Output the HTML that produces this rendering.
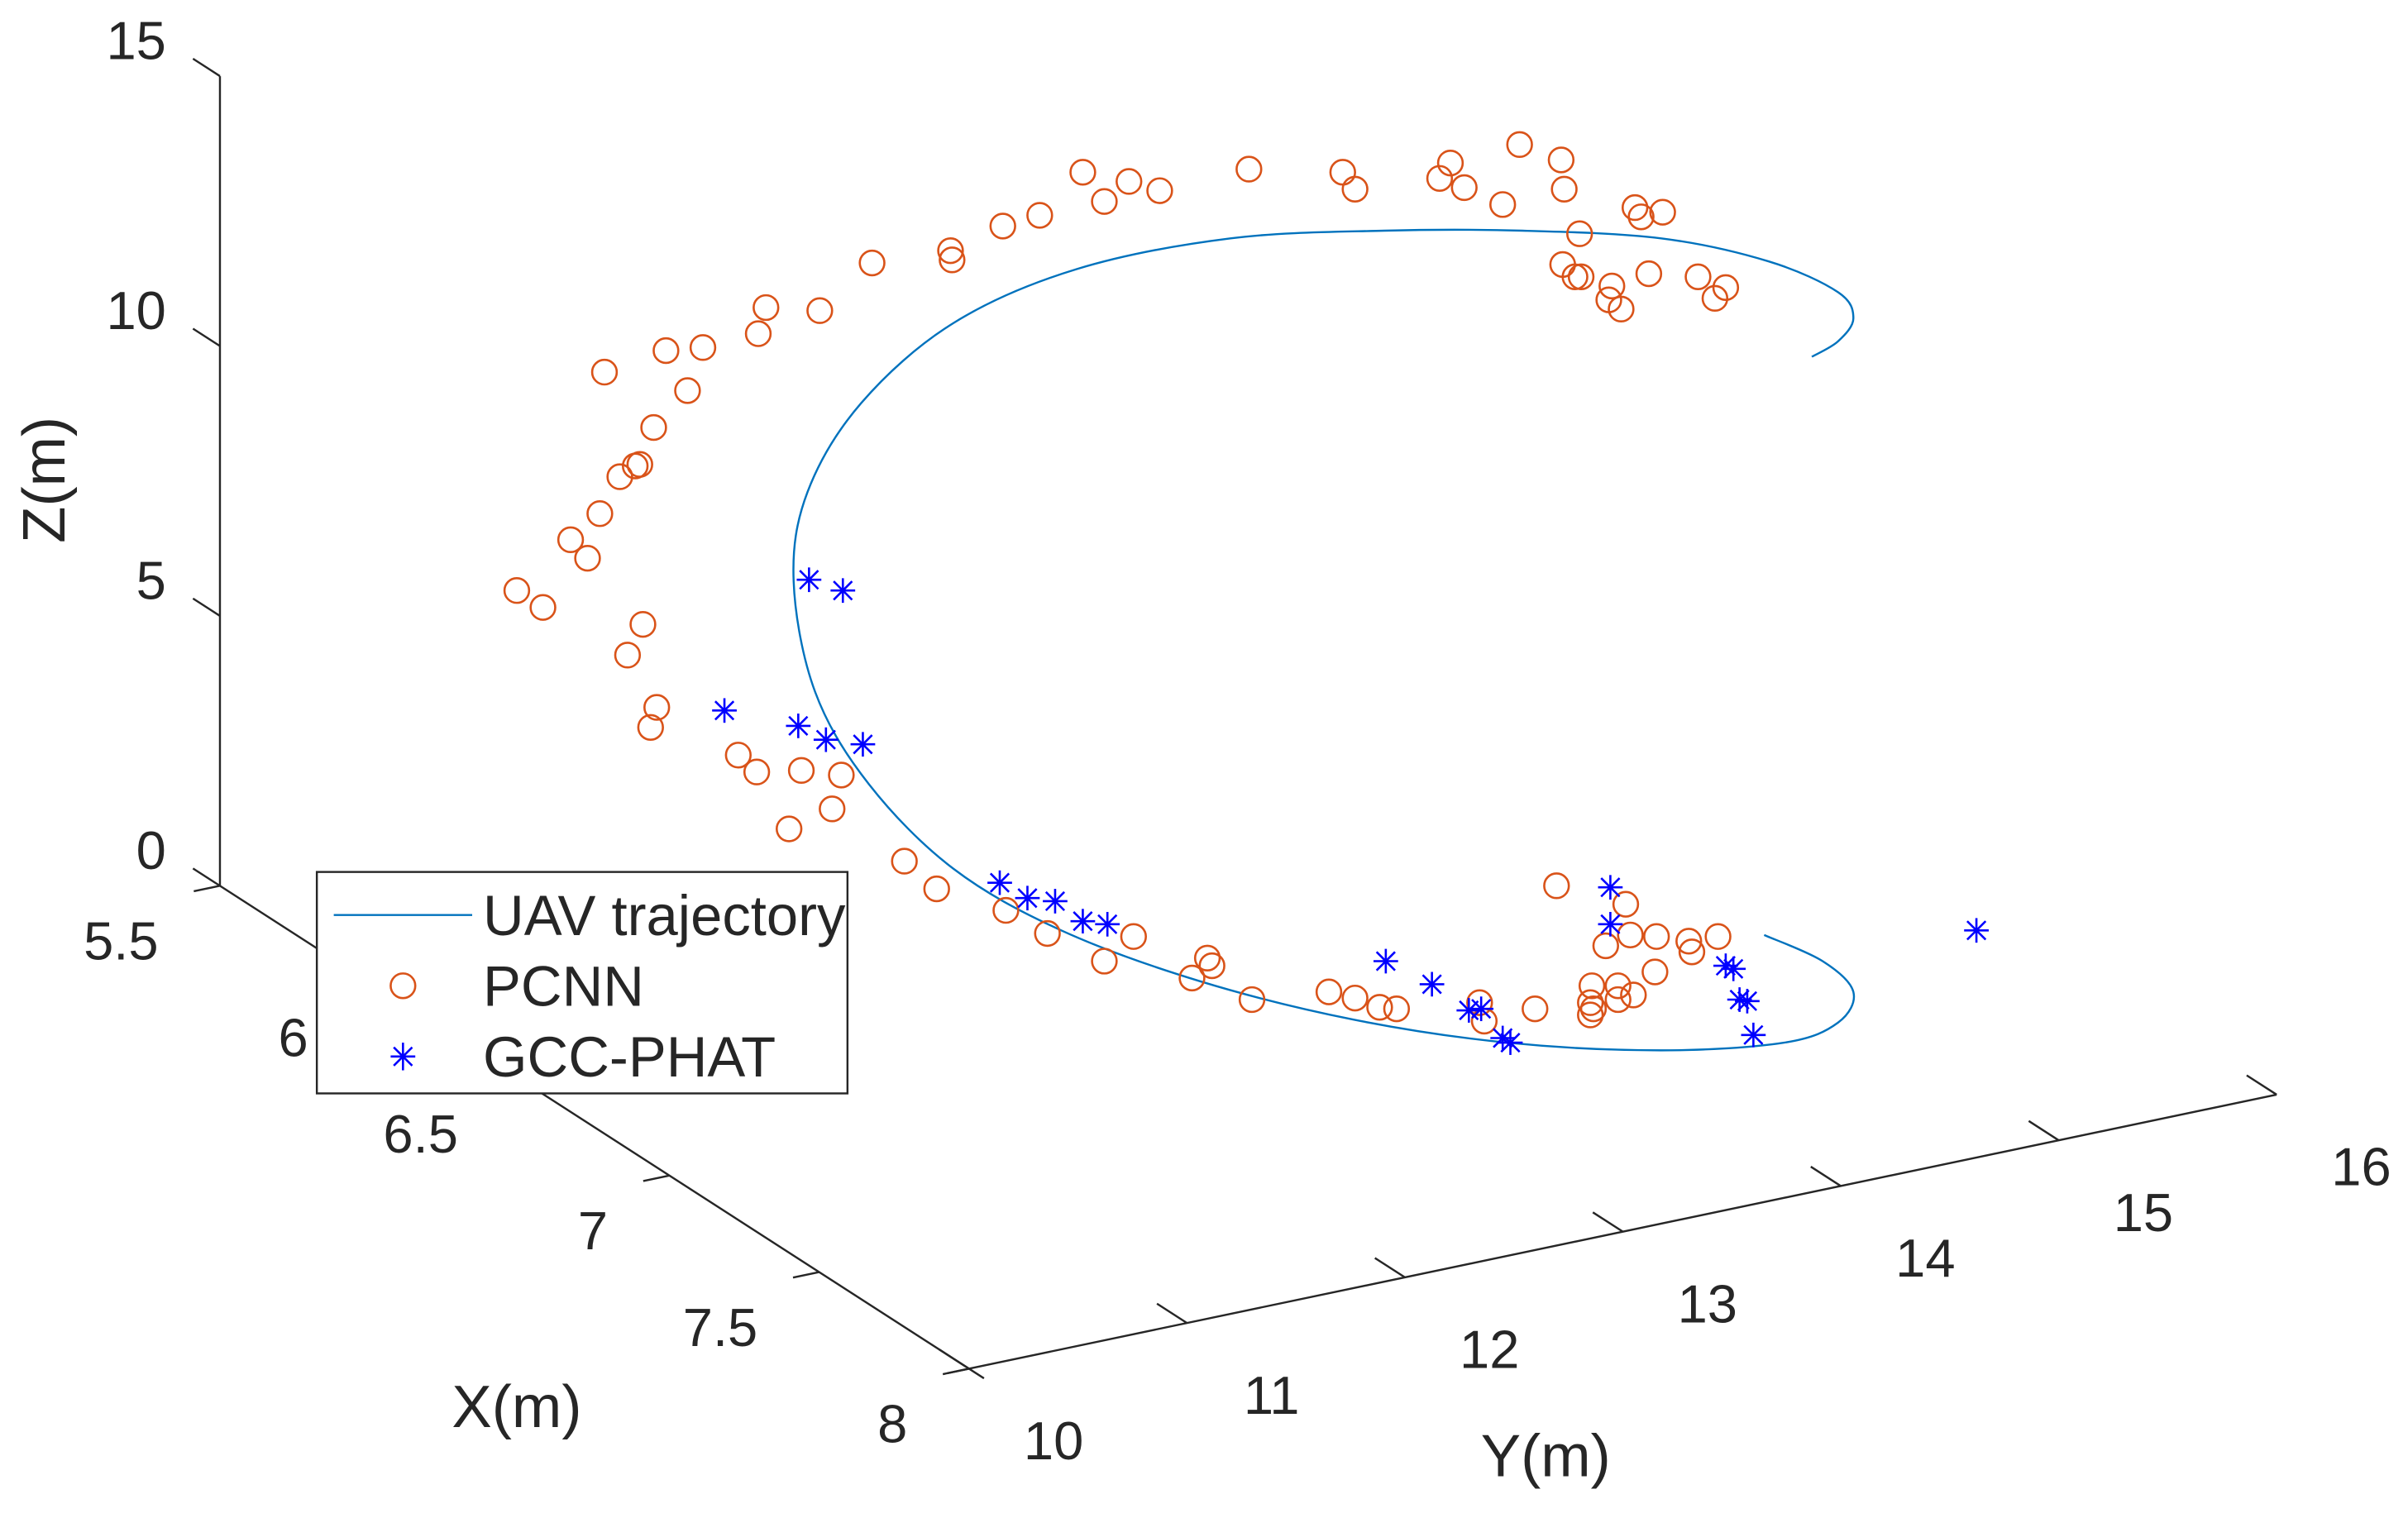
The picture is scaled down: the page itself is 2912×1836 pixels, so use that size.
<!DOCTYPE html>
<html><head><meta charset="utf-8"><style>
html,body{margin:0;padding:0;background:#fff;}
svg{display:block;}
text{font-family:"Liberation Sans",Arial,sans-serif;fill:#262626;}
</style></head><body>
<svg id="chart" width="2912" height="1836" viewBox="0 0 1565.6 987.1" preserveAspectRatio="none" xmlns="http://www.w3.org/2000/svg">
<g id="axes"></g>
<g id="traj"></g>
<g id="pcnn"></g>
<g id="gcc"></g>
<g id="legend">
  <rect x="206" y="567" width="345" height="144" fill="#fff" stroke="#262626" stroke-width="1.3"/>
  <line x1="217" y1="595" x2="307" y2="595" stroke="#0072BD" stroke-width="1.3"/>
  <text x="314" y="608" font-size="37">UAV trajectory</text>
  <circle cx="262" cy="641" r="8" fill="none" stroke="#D95319" stroke-width="1.4"/>
  <text x="314" y="654" font-size="37">PCNN</text>
  <g stroke="#0000FF" stroke-width="1.4">
    <line x1="262" y1="678" x2="262" y2="696"/><line x1="254" y1="687" x2="270" y2="687"/>
    <line x1="256" y1="681" x2="268" y2="693"/><line x1="268" y1="681" x2="256" y2="693"/>
  </g>
  <text x="314" y="700" font-size="37">GCC-PHAT</text>
</g>
</svg>
<script>
// Projected plane coordinates (h: horizontal, v: apparent height)
const pcnnH=[3.36,3.53,3.71,3.82,3.90,4.03,4.13,4.16,4.25,4.47,4.33,4.57,3.93,4.93,4.98,5.33,5.67,6.18,6.19,6.52,6.76,7.04,7.18,7.34,7.54,8.12,8.73,8.81,9.36,9.43,9.52,9.77,9.88,10.15,10.17,10.63,10.67,10.81,10.27,10.16,10.24,10.28,10.48,10.72,10.46,10.54,11.04,11.22,11.15,
4.18,4.08,4.27,4.23,4.80,4.92,5.21,5.47,5.41,5.13,5.88,6.09,6.54,6.81,7.18,7.37,7.85,7.88,7.75,8.14,8.64,8.81,8.97,9.08,9.62,9.65,9.98,10.12,10.57,10.44,10.60,10.77,10.98,11.00,11.17,10.76,10.35,10.52,10.62,10.34,10.34,10.52,10.36];
const pcnnV=[5.16,5.05,5.49,5.37,5.66,5.90,5.97,5.98,6.22,6.46,6.72,6.74,6.58,6.83,7.00,6.98,7.29,7.37,7.31,7.53,7.60,7.88,7.69,7.82,7.76,7.90,7.88,7.77,7.84,7.94,7.78,7.67,8.06,7.96,7.77,7.65,7.59,7.62,7.48,7.28,7.20,7.20,7.14,7.22,7.05,6.99,7.20,7.13,7.06,
4.94,4.74,4.40,4.27,4.09,3.98,3.99,3.96,3.74,3.61,3.40,3.22,3.08,2.93,2.75,2.91,2.77,2.72,2.64,2.50,2.55,2.51,2.45,2.44,2.48,2.36,2.44,3.24,3.12,2.85,2.92,2.91,2.88,2.81,2.91,2.68,2.59,2.59,2.53,2.48,2.40,2.50,2.44];
const gccH=[5.26,5.48,4.71,5.19,5.37,5.61,6.50,6.68,6.86,7.04,7.20,9.01,9.31,9.55,9.63,9.77,9.82,10.47,10.47,11.22,11.27,11.31,11.36,11.40,12.85];
const gccV=[5.23,5.16,4.38,4.28,4.19,4.16,3.26,3.16,3.14,3.01,2.99,2.75,2.60,2.43,2.44,2.25,2.22,3.23,2.99,2.72,2.70,2.50,2.49,2.27,2.95];
const trajH=[11.47,11.85,12.05,11.95,11.60,10.80,9.80,8.80,7.80,6.90,6.20,5.65,5.30,5.16,5.25,5.60,6.20,7.00,8.00,9.00,9.90,10.80,11.50,11.95,12.05,11.95,11.78];
const trajV=[2.92,2.75,2.55,2.35,2.22,2.17,2.22,2.37,2.62,2.95,3.35,3.90,4.50,5.22,5.80,6.38,6.90,7.25,7.45,7.50,7.50,7.45,7.30,7.10,6.93,6.78,6.68];
// axis tick values
const zTicks=[0,5,10,15];
const xTicks=[5.5,6,6.5,7,7.5,8];
const yTicks=[10,11,12,13,14,15,16];

const NS="http://www.w3.org/2000/svg";
function px(h){return h*100;}
function py(v){return 900-v*100;}
function proj(x,y,z){return [143+(x-5.5)*194.8+(y-10)*141.7, 576+(x-5.5)*125.6-(y-10)*29.7-z*35.1];}
function mk(tag,attrs,parent){const e=document.createElementNS(NS,tag);for(const k in attrs)e.setAttribute(k,attrs[k]);parent.appendChild(e);return e;}

const ax=document.getElementById('axes');
const st={stroke:"#262626","stroke-width":1.3,fill:"none"};
let a=proj(5.5,10,0),b=proj(5.5,10,15);
let l=mk('line',Object.assign({x1:a[0],y1:a[1],x2:b[0],y2:b[1]},st),ax);


a=proj(5.5,10,0);b=proj(8.05,10,0);
l=mk('line',Object.assign({x1:a[0],y1:a[1],x2:b[0],y2:b[1]},st),ax);


a=proj(8,9.9,0);b=proj(8,16,0);
l=mk('line',Object.assign({x1:a[0],y1:a[1],x2:b[0],y2:b[1]},st),ax);



zTicks.forEach(z=>{const p=proj(5.5,10,z),q=proj(5.41,10,z);
 const t=mk('line',Object.assign({x1:p[0],y1:p[1],x2:q[0],y2:q[1]},st),ax);
 
 
 const tx=mk('text',{x:108,y:p[1]-11,"font-size":35,"text-anchor":"end"},ax);tx.textContent=String(z);
 
 });
xTicks.forEach(x=>{const p=proj(x,10,0),q=proj(x,9.88,0);
 const t=mk('line',Object.assign({x1:p[0],y1:p[1],x2:q[0],y2:q[1]},st),ax);
 
 
 const tx=mk('text',{x:p[0]-40,y:p[1]+48,"font-size":35,"text-anchor":"end"},ax);tx.textContent=String(x);
 
 });
yTicks.forEach(y=>{const p=proj(8,y,0),q=proj(7.9,y,0);
 const t=mk('line',Object.assign({x1:p[0],y1:p[1],x2:q[0],y2:q[1]},st),ax);
 
 
 const tx=mk('text',{x:p[0]+55,y:p[1]+59,"font-size":35,"text-anchor":"middle"},ax);tx.textContent=String(y);
 
 });
let lab=mk('text',{x:0,y:0,"font-size":39,"text-anchor":"middle",transform:"translate(42,312) rotate(-90)"},ax);lab.textContent="Z(m)";


lab=mk('text',{x:336,y:928,"font-size":39,"text-anchor":"middle"},ax);lab.textContent="X(m)";


lab=mk('text',{x:1005,y:960,"font-size":39,"text-anchor":"middle"},ax);lab.textContent="Y(m)";



const P=trajH.map((h,i)=>[px(h),py(trajV[i])]);
let d="M"+P[0][0]+","+P[0][1];
for(let i=0;i<P.length-1;i++){const p0=P[Math.max(0,i-1)],p1=P[i],p2=P[i+1],p3=P[Math.min(P.length-1,i+2)];
 d+=" C"+(p1[0]+(p2[0]-p0[0])/6)+","+(p1[1]+(p2[1]-p0[1])/6)+" "+(p2[0]-(p3[0]-p1[0])/6)+","+(p2[1]-(p3[1]-p1[1])/6)+" "+p2[0]+","+p2[1];}
const tp=mk('path',{d:d,fill:"none",stroke:"#0072BD","stroke-width":1.3},document.getElementById('traj'));



const pg=document.getElementById('pcnn');
pcnnH.forEach((h,i)=>{const c=mk('circle',{cx:px(h),cy:py(pcnnV[i]),r:8,fill:"none",stroke:"#D95319","stroke-width":1.4},pg);
 
 });
const gg=document.getElementById('gcc');
gccH.forEach((h,i)=>{const x=px(h),y=py(gccV[i]);
 const g=mk('g',{stroke:"#0000FF","stroke-width":1.4},gg);
 
 
 mk('line',{x1:x,y1:y-8,x2:x,y2:y+8},g);mk('line',{x1:x-8,y1:y,x2:x+8,y2:y},g);
 mk('line',{x1:x-6,y1:y-6,x2:x+6,y2:y+6},g);mk('line',{x1:x+6,y1:y-6,x2:x-6,y2:y+6},g);});
</script>
</body></html>
